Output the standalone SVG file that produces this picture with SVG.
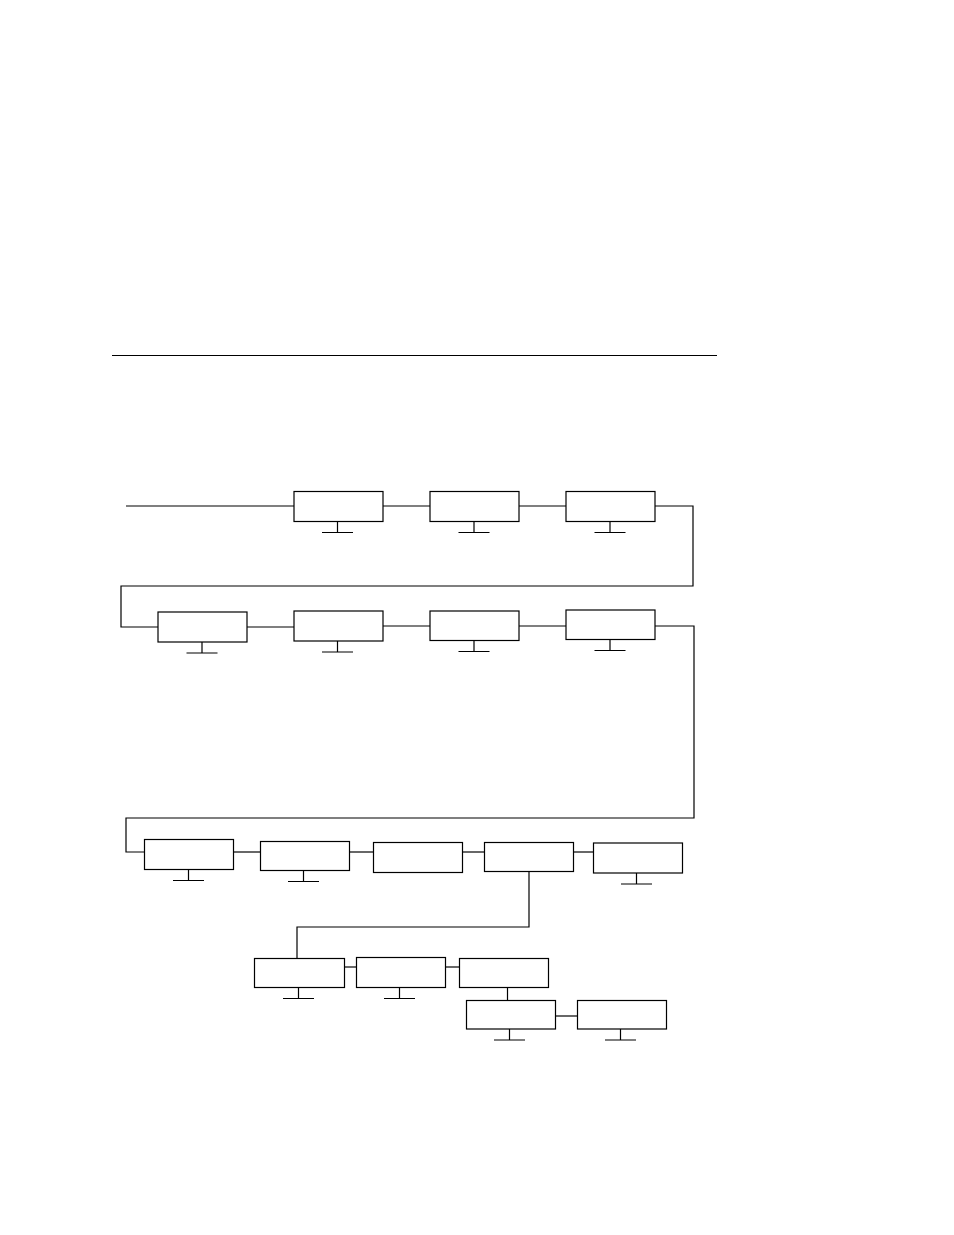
<svg xmlns="http://www.w3.org/2000/svg" width="954" height="1235" viewBox="0 0 954 1235">
<style>
.box{fill:#fff;stroke:#000;stroke-width:1.2}
.ln{fill:none;stroke:#000;stroke-width:1.2}
</style>
<defs>
<g id="foot"><path class="ln" d="M0,0 V11 M-15.5,11 H15.5"/></g>
</defs>
<rect width="954" height="1235" fill="#fff"/>
<line class="ln" x1="112" y1="355.5" x2="717" y2="355.5"/>
<g id="connectors">
<path class="ln" d="M126,506 H294"/>
<path class="ln" d="M383,506 H430"/>
<path class="ln" d="M519,506 H566"/>
<path class="ln" d="M655,506 H693 V586 H121 V627 H158"/>
<path class="ln" d="M247,627 H294"/>
<path class="ln" d="M383,626 H430"/>
<path class="ln" d="M519,626 H566"/>
<path class="ln" d="M655,626 H694 V818 H126 V852 H144"/>
<path class="ln" d="M233,852 H260"/>
<path class="ln" d="M349,852 H373"/>
<path class="ln" d="M462,852 H484"/>
<path class="ln" d="M573,852 H593"/>
<path class="ln" d="M529,871 V927 H297 V958"/>
<path class="ln" d="M344.5,967 H356"/>
<path class="ln" d="M445,967 H459"/>
<path class="ln" d="M507.5,987 V1000"/>
<path class="ln" d="M555,1016 H577"/>
</g>
<g id="n1"><rect class="box" x="294" y="491.5" width="89" height="30"/><use href="#foot" x="337.5" y="521.5"/></g>
<g id="n2"><rect class="box" x="430" y="491.5" width="89" height="30"/><use href="#foot" x="474" y="521.5"/></g>
<g id="n3"><rect class="box" x="566" y="491.5" width="89" height="30"/><use href="#foot" x="610" y="521.5"/></g>
<g id="n4"><rect class="box" x="158" y="612" width="89" height="30"/><use href="#foot" x="202" y="642"/></g>
<g id="n5"><rect class="box" x="294" y="611" width="89" height="30"/><use href="#foot" x="337.5" y="641"/></g>
<g id="n6"><rect class="box" x="430" y="611" width="89" height="29.5"/><use href="#foot" x="474" y="640.5"/></g>
<g id="n7"><rect class="box" x="566" y="610" width="89" height="29.5"/><use href="#foot" x="610" y="639.5"/></g>
<g id="n8"><rect class="box" x="144.5" y="839.5" width="89" height="30"/><use href="#foot" x="188.5" y="869.5"/></g>
<g id="n9"><rect class="box" x="260.5" y="841.5" width="89" height="29"/><use href="#foot" x="303.5" y="870.5"/></g>
<g id="n10"><rect class="box" x="373.5" y="842.5" width="89" height="30"/></g>
<g id="n11"><rect class="box" x="484.5" y="842.5" width="89" height="29"/></g>
<g id="n12"><rect class="box" x="593.5" y="843" width="89" height="30"/><use href="#foot" x="636.5" y="873"/></g>
<g id="n13"><rect class="box" x="254.5" y="958.5" width="90" height="29"/><use href="#foot" x="298.5" y="987.5"/></g>
<g id="n14"><rect class="box" x="356.5" y="957.5" width="89" height="30"/><use href="#foot" x="399.5" y="987.5"/></g>
<g id="n15"><rect class="box" x="459.5" y="958.5" width="89" height="29"/></g>
<g id="n16"><rect class="box" x="466.5" y="1000.5" width="89" height="28.5"/><use href="#foot" x="509.5" y="1029"/></g>
<g id="n17"><rect class="box" x="577.5" y="1000.5" width="89" height="28.5"/><use href="#foot" x="620.5" y="1029"/></g>
</svg>
